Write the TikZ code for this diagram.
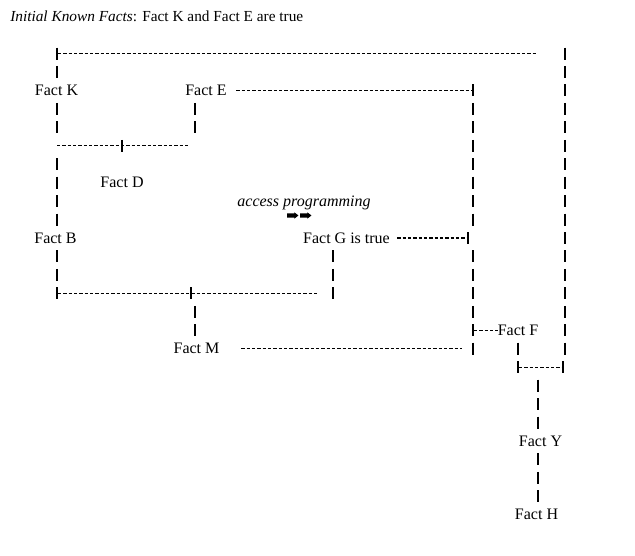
\documentclass[tikz,border=0pt]{standalone}
\usepackage{fontspec}
\setmainfont{Liberation Serif}
\usepackage{tikz}
\usetikzlibrary{calc}
\tikzstyle{fact}=[inner sep=0pt, font=\fontsize{12pt}{14pt}\selectfont]
\tikzstyle{vbar}=[draw, line width=0.85pt, dash pattern=on 9pt off 4.8375pt]
\tikzstyle{hdash}=[draw, line width=0.85pt, dash pattern=on 2.5pt off 1.5pt]

\begin{document}
\begin{tikzpicture}[x=0.75pt,y=-13.8375pt]
    \path[use as bounding box, fill=white] (0,-2.9) rectangle (635,27.182);

    % First the facts and the texts
    \node[fact, anchor=west, font=\fontsize{11.5pt}{14pt}\selectfont] (title) at (10,-2.03)
        {\textit{Initial Known Facts}: Fact K and Fact E are true};
    \foreach \pos/\name/\txt in {{(56.5,2)/K/Fact K}, {(206,2)/E/Fact E}, {(122,7)/D/Fact D},
        {(55.5,10)/B/Fact B}, {(346.5,10)/G/Fact G is true}, {(196.5,16)/M/Fact M},
        {(518,15)/F/Fact F}, {(540.5,21)/Y/Fact Y}, {(536.5,25)/H/Fact H}}
        \node[fact] (\name) at \pos {\txt};
    \node[fact, anchor=base] (access) at (304,8.287) {\textit{access programming}};

    % the two little link arrows
    \coordinate (link) at (287,8.78);
    \foreach \dx in {0pt,9.75pt}
        \fill[shift={($(link)+(\dx,0)$)}] (0,-1.6pt) -- (5.6pt,-1.6pt) -- (5.6pt,-2.3pt) -- (8.6pt,0)
            -- (5.6pt,2.3pt) -- (5.6pt,1.6pt) -- (0,1.6pt) -- cycle;

    % ends of the vertical runs
    \foreach \pos/\name in {{(57,-0.325)/kt1}, {(57,1.325)/kt2}, {(57,2.675)/kb1}, {(57,4.325)/kb2},
        {(57,5.675)/bt1}, {(57,9.325)/bt2}, {(57,10.675)/bb1}, {(57,13.325)/bb2},
        {(195,2.675)/eb1}, {(195,4.325)/eb2}, {(122,4.675)/dj1}, {(122,5.325)/dj2},
        {(191,12.675)/mj1}, {(191,13.325)/mj2}, {(195,13.675)/mt1}, {(195,15.325)/mt2},
        {(333,10.675)/gb1}, {(333,13.325)/gb2}, {(473,1.675)/ra1}, {(473,9.325)/ra2},
        {(468,9.675)/gj1}, {(468,10.325)/gj2}, {(473,10.675)/rb1}, {(473,16.325)/rb2},
        {(565,-0.325)/oa1}, {(565,16.325)/oa2}, {(563,16.675)/oj1}, {(563,17.325)/oj2},
        {(518,15.675)/fb1}, {(518,17.325)/fb2}, {(538,17.675)/ya1}, {(538,20.325)/ya2},
        {(538,21.675)/yb1}, {(538,24.325)/yb2}}
        \path \pos coordinate (\name);

    % ends of the dashed rules
    \foreach \pos/\name in {{(58,0)/ha1}, {(538,0)/ha2}, {(472,2)/he}, {(57,5)/hk1}, {(188,5)/hk2},
        {(467,10)/hg}, {(58,13)/hb1}, {(318,13)/hb2}, {(474,15)/hf}, {(462,16)/hm},
        {(519,17)/ho1}, {(562,17)/ho2}}
        \path \pos coordinate (\name);

    % Connect with the bars
    \foreach \source/\dest in {kt1/kt2, kb1/kb2, bt1/bt2, bb1/bb2, eb1/eb2, dj1/dj2, mj1/mj2, mt1/mt2,
        gb1/gb2, ra1/ra2, gj1/gj2, rb1/rb2, oa1/oa2, oj1/oj2, fb1/fb2, ya1/ya2, yb1/yb2}
        \path[vbar] (\source) -- (\dest);

    % and with the dashes
    \foreach \source/\dest in {ha1/ha2, hk1/hk2, hb1/hb2, ho1/ho2}
        \path[hdash] (\source) -- (\dest);
    \path[hdash, shorten <=7.1pt] (E) -- (he);
    \path[hdash, shorten <=5.4pt] (G) -- (hg);
    \path[hdash, shorten <=16.2pt] (M) -- (hm);
    \path[hdash] (hf) -- (F);
\end{tikzpicture}
\end{document}
